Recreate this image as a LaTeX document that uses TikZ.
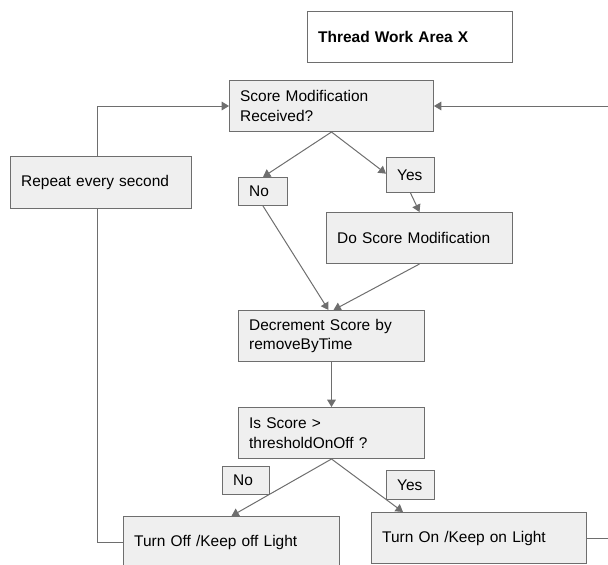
\documentclass[tikz,border=0pt]{standalone}
\usepackage{fontspec}
\setmainfont{Liberation Sans}
\usetikzlibrary{arrows.meta}
\definecolor{boxgray}{HTML}{EFEFEF}
\definecolor{lngray}{HTML}{6E6E6E}
\begin{document}
\begin{tikzpicture}[x=0.75pt,y=-0.75pt,
  blk/.style={draw=lngray,fill=boxgray,line width=0.75pt,anchor=north west,align=left,
    inner xsep=8pt,inner ysep=0pt,font=\fontsize{11.6}{14.6}\selectfont},
  arr/.style={draw=lngray,line width=0.75pt,-{Triangle[length=5.5pt,width=6.5pt]}},
  ln/.style={draw=lngray,line width=0.75pt}]
\useasboundingbox (0,0) rectangle (608,565);
\clip (0,0) rectangle (608,565);

\node [blk,fill=white,text width=137.75pt,minimum height=38.25pt,
  font=\fontsize{11.6}{14.6}\selectfont\bfseries] (thr) at (307,11) {Thread Work Area X};
\node [blk,text width=137pt,minimum height=38.25pt] (sm) at (229,80) {Score Modification\\Received?};
\node [blk,text width=119.75pt,minimum height=39pt] (rep) at (10,156) {Repeat every second};
\node [blk,text width=20.75pt,minimum height=21pt] (no1) at (238,177) {No};
\node [blk,text width=20pt,minimum height=26.25pt] (yes1) at (386,157) {Yes};
\node [blk,text width=123.5pt,minimum height=38.25pt] (do) at (326,212) {Do Score Modification};
\node [blk,text width=123.5pt,minimum height=38.25pt] (dec) at (238,310) {Decrement Score by\\removeByTime};
\node [blk,text width=123.5pt,minimum height=38.25pt] (is) at (238,407) {Is Score >\\thresholdOnOff ?};
\node [blk,text width=19.25pt,minimum height=21pt] (no2) at (222,466) {No};
\node [blk,text width=20pt,minimum height=21.75pt] (yes2) at (386,470) {Yes};
\node [blk,text width=146pt,minimum height=39pt] (off) at (123,516) {Turn Off /Keep off Light};
\node [blk,text width=145.25pt,minimum height=38.25pt] (on) at (371,512) {Turn On /Keep on Light};

\draw[arr] (sm.south) -- (no1.north);
\draw[arr] (sm.south) -- ([yshift=1pt]yes1.west);
\draw[arr] (yes1.south) -- (do.north);
\draw[arr] (no1.south) -- ([xshift=-2.25pt]dec.north);
\draw[arr] (do.south) -- ([xshift=1.5pt]dec.north);
\draw[arr] (dec.south) -- (is.north);
\draw[arr] (is.south) -- (off.north);
\draw[arr] (is.south) -- ([xshift=24pt]on.north west);

\draw[arr] ([xshift=-2.6pt]rep.north) |- (sm.west);
\draw[ln] (off.west) -| ([xshift=-2.6pt]rep.south);
\coordinate (rt) at (620,300);
\draw[arr] (on.east) -| (rt) |- (sm.east);
\end{tikzpicture}
\end{document}
